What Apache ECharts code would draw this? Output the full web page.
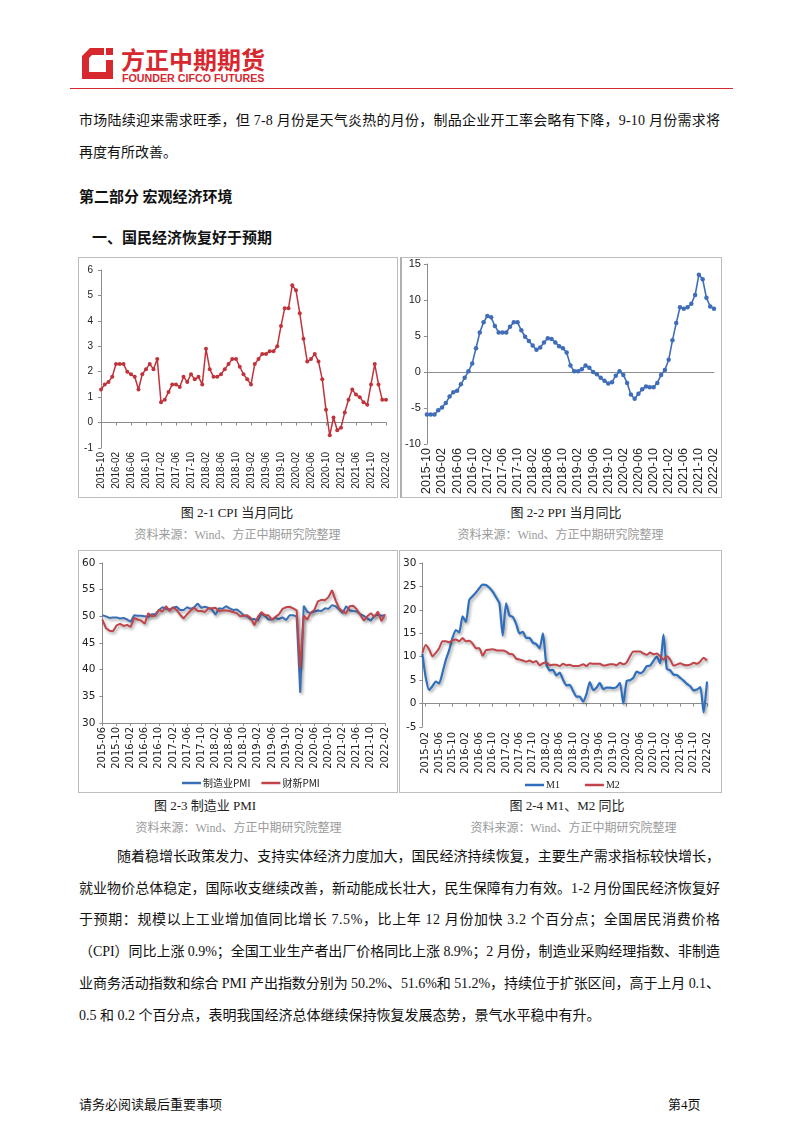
<!DOCTYPE html>
<html><head><meta charset="utf-8">
<script src="https://cdn.jsdelivr.net/npm/echarts@6/dist/echarts.min.js"></script>
<style>
html,body{margin:0;padding:0;background:#fff;}
#page{position:relative;width:802px;height:1133px;overflow:hidden;background:#fff;font-family:"Liberation Serif","Noto Sans CJK SC",serif;color:#111;}
.t{position:absolute;white-space:nowrap;font-size:14px;line-height:20px;}
.h{font-weight:700;font-size:15px;font-family:"Noto Sans CJK SC",sans-serif;}
.cap{position:absolute;text-align:center;font-size:13px;line-height:18px;color:#222;white-space:nowrap;}
.src{position:absolute;text-align:center;font-size:12px;line-height:18px;color:#9a9a9a;white-space:nowrap;}
.box{position:absolute;border:1px solid #bdbdbd;box-sizing:border-box;}
.ch{position:absolute;}
</style></head>
<body><div id="page">
<svg style="position:absolute;left:81px;top:47px" width="34" height="34" viewBox="0 0 34 34">
 <path d="M1 9 L9 1 L23 1 L23 8 L11 8 L8 11 L8 25 L25 25 L25 13 L32 13 L32 32 L1 32 Z" fill="#d7282f"/>
 <path d="M25 1 L32 1 L32 8 L25 8 Z" fill="#d7282f"/>
</svg>
<div class="t" style="left:121px;top:44px;font-size:24px;line-height:30px;font-weight:700;color:#d7282f;font-family:'Noto Sans CJK SC',sans-serif;">方正中期期货</div>
<div class="t" style="left:122px;top:71px;font-size:10.7px;line-height:14px;font-weight:700;color:#d7282f;font-family:'Liberation Sans',sans-serif;">FOUNDER CIFCO FUTURES</div>
<div style="position:absolute;left:70px;top:88px;width:663px;height:1px;background:#d7282f;"></div>

<div class="t fit" data-w="641" style="left:79px;top:111px;">市场陆续迎来需求旺季，但 7-8 月份是天气炎热的月份，制品企业开工率会略有下降，9-10 月份需求将</div>
<div class="t" style="left:79px;top:143px;">再度有所改善。</div>
<div class="t h" style="left:79px;top:186px;">第二部分 宏观经济环境</div>
<div class="t h" style="left:92px;top:227px;">一、国民经济恢复好于预期</div>

<div class="box" style="left:78px;top:257px;width:320px;height:241px;"></div>
<div class="box" style="left:400px;top:257px;width:322px;height:241px;border-left:2px solid #b0b0b0;"></div>
<div class="box" style="left:78px;top:550px;width:320px;height:243px;"></div>
<div class="box" style="left:399px;top:550px;width:323px;height:243px;"></div>

<div id="c1" class="ch" style="left:79px;top:258px;width:318px;height:239px;"></div>
<div id="c2" class="ch" style="left:402px;top:258px;width:319px;height:239px;"></div>
<div id="c3" class="ch" style="left:79px;top:551px;width:318px;height:241px;"></div>
<div id="c4" class="ch" style="left:400px;top:551px;width:321px;height:241px;"></div>

<div class="cap" style="left:137px;top:504px;width:200px;">图 2-1 CPI 当月同比</div>
<div class="src" style="left:110px;top:526px;width:255px;">资料来源：Wind、方正中期研究院整理</div>
<div class="cap" style="left:466px;top:504px;width:200px;">图 2-2 PPI 当月同比</div>
<div class="src" style="left:433px;top:526px;width:255px;">资料来源：Wind、方正中期研究院整理</div>
<div class="cap" style="left:105px;top:797px;width:200px;">图 2-3 制造业 PMI</div>
<div class="src" style="left:111px;top:819px;width:255px;">资料来源：Wind、方正中期研究院整理</div>
<div class="cap" style="left:467px;top:797px;width:200px;">图 2-4 M1、M2 同比</div>
<div class="src" style="left:446px;top:819px;width:255px;">资料来源：Wind、方正中期研究院整理</div>

<div class="t fit" data-w="603" style="left:117px;top:847px;">随着稳增长政策发力、支持实体经济力度加大，国民经济持续恢复，主要生产需求指标较快增长，</div>
<div class="t fit" data-w="641" style="left:79px;top:879px;">就业物价总体稳定，国际收支继续改善，新动能成长壮大，民生保障有力有效。1-2 月份国民经济恢复好</div>
<div class="t fit" data-w="641" style="left:79px;top:910px;">于预期：规模以上工业增加值同比增长 7.5%，比上年 12 月份加快 3.2 个百分点；全国居民消费价格</div>
<div class="t fit" data-w="641" style="left:79px;top:942px;">（CPI）同比上涨 0.9%；全国工业生产者出厂价格同比上涨 8.9%；2 月份，制造业采购经理指数、非制造</div>
<div class="t fit" data-w="641" style="left:79px;top:974px;">业商务活动指数和综合 PMI 产出指数分别为 50.2%、51.6%和 51.2%，持续位于扩张区间，高于上月 0.1、</div>
<div class="t" style="left:79px;top:1006px;">0.5 和 0.2 个百分点，表明我国经济总体继续保持恢复发展态势，景气水平稳中有升。</div>

<div class="t" style="left:79px;top:1095px;font-size:13px;">请务必阅读最后重要事项</div>
<div class="t" style="left:668px;top:1095px;font-size:13px;">第4页</div>
</div>
<script>
// ---------- fit justified text lines ----------
document.querySelectorAll('.fit').forEach(function (el) {
  el.style.letterSpacing = '0px';
  const w = el.getBoundingClientRect().width;
  const n = Array.from(el.textContent).length;
  const target = +el.dataset.w;
  el.style.letterSpacing = ((target - w) / (n - 1)) + 'px';
});

// ---------- data ----------
function months(y0, m0, y1, m1) {
  const out = [];
  let y = y0, m = m0;
  while (y < y1 || (y === y1 && m <= m1)) {
    out.push(y + '-' + (m < 10 ? '0' + m : '' + m));
    m++; if (m > 12) { m = 1; y++; }
  }
  return out;
}
const cpiMonths = months(2015, 10, 2022, 2);
const cpiValues = [1.3, 1.5, 1.6,
  1.8, 2.3, 2.3, 2.3, 2.0, 1.9, 1.8, 1.3, 1.9, 2.1, 2.3, 2.1,
  2.5, 0.8, 0.9, 1.2, 1.5, 1.5, 1.4, 1.8, 1.6, 1.9, 1.7, 1.8,
  1.5, 2.9, 2.1, 1.8, 1.8, 1.9, 2.1, 2.3, 2.5, 2.5, 2.2, 1.9,
  1.7, 1.5, 2.3, 2.5, 2.7, 2.7, 2.8, 2.8, 3.0, 3.8, 4.5, 4.5,
  5.4, 5.2, 4.3, 3.3, 2.4, 2.5, 2.7, 2.4, 1.7, 0.5, -0.5, 0.2,
  -0.3, -0.2, 0.4, 0.9, 1.3, 1.1, 1.0, 0.8, 0.7, 1.5, 2.3, 1.5,
  0.9, 0.9];
const ppiMonths = months(2015, 10, 2022, 2);
const ppiValues = [-5.9, -5.9, -5.9,
  -5.3, -4.9, -4.3, -3.4, -2.8, -2.6, -1.7, -0.8, 0.1, 1.2, 3.3, 5.5,
  6.9, 7.8, 7.6, 6.4, 5.5, 5.5, 5.5, 6.3, 6.9, 6.9, 5.8, 4.9,
  4.3, 3.7, 3.1, 3.4, 4.1, 4.7, 4.6, 4.1, 3.6, 3.3, 2.7, 0.9,
  0.1, 0.1, 0.4, 0.9, 0.6, 0.0, -0.3, -0.8, -1.2, -1.6, -1.4, -0.5,
  0.1, -0.4, -1.5, -3.1, -3.7, -3.0, -2.4, -2.0, -2.1, -2.1, -1.5, -0.4,
  0.3, 1.7, 4.4, 6.8, 9.0, 8.8, 9.0, 9.5, 10.7, 13.5, 12.9, 10.3,
  9.1, 8.8];
const pmiMonths = months(2015, 6, 2022, 2);
const pmiOfficial = [50.2, 50.0, 49.7, 49.8, 49.8, 49.6, 49.7,
  49.4, 49.0, 50.2, 50.1, 50.1, 50.0, 49.9, 50.4, 50.4, 51.2, 51.7, 51.4,
  51.3, 51.6, 51.8, 51.2, 51.2, 51.7, 51.4, 51.7, 52.4, 51.6, 51.8, 51.6,
  51.3, 50.3, 51.5, 51.4, 51.9, 51.5, 51.2, 51.3, 50.8, 50.2, 50.0, 49.4,
  49.5, 49.2, 50.5, 50.1, 49.4, 49.4, 49.7, 49.5, 49.8, 49.3, 50.2, 50.2,
  50.0, 35.7, 52.0, 50.8, 50.6, 50.9, 51.1, 51.0, 51.5, 51.4, 52.1, 51.9,
  51.3, 50.6, 51.9, 51.1, 51.0, 50.9, 50.4, 50.1, 49.6, 49.2, 50.1, 50.3,
  50.1, 50.2];
const pmiCaixin = [49.4, 47.8, 47.3, 47.2, 48.3, 48.6, 48.2,
  48.4, 48.0, 49.7, 49.4, 49.2, 48.6, 50.6, 50.0, 50.1, 51.2, 50.9, 51.9,
  51.0, 51.7, 51.2, 50.3, 49.6, 50.4, 51.1, 51.6, 51.0, 51.0, 50.8, 51.5,
  51.5, 51.6, 51.0, 51.1, 51.1, 51.0, 50.8, 50.6, 50.0, 50.1, 50.2, 49.7,
  48.3, 49.9, 50.8, 50.2, 50.2, 49.4, 49.9, 50.4, 51.4, 51.7, 51.8, 51.5,
  51.1, 40.3, 50.1, 49.4, 50.7, 51.2, 52.8, 53.1, 53.0, 53.6, 54.9, 53.0,
  51.5, 50.9, 50.6, 51.9, 52.0, 51.3, 50.3, 49.2, 50.0, 50.6, 49.9, 50.9,
  49.1, 50.4];
const mMonths = months(2015, 1, 2022, 2);
const m1Values = [10.6, 5.6, 2.9, 3.7, 4.7, 4.3, 6.6, 9.3, 11.4, 14.0, 15.7, 15.2,
  18.6, 17.4, 22.1, 22.9, 23.7, 24.6, 25.4, 25.3, 24.7, 23.9, 22.7, 21.4,
  14.5, 21.4, 18.8, 18.5, 17.0, 15.0, 15.3, 14.0, 14.0, 13.0, 12.7, 11.8,
  15.0, 8.5, 7.1, 7.2, 6.0, 6.6, 5.1, 3.9, 4.0, 2.7, 1.5, 1.5,
  0.4, 2.0, 4.6, 2.9, 3.4, 4.4, 3.1, 3.4, 3.4, 3.3, 3.5, 4.4,
  0.0, 4.8, 5.0, 5.5, 6.8, 6.5, 6.9, 8.0, 8.1, 9.1, 10.0, 8.6,
  14.7, 7.4, 7.1, 6.2, 6.1, 5.5, 4.9, 4.2, 3.7, 2.8, 3.0, 3.5,
  -1.9, 4.7];
const m2Values = [10.8, 12.5, 11.6, 10.1, 10.8, 11.8, 13.3, 13.3, 13.1, 13.5, 13.7, 13.3,
  14.0, 13.3, 13.4, 12.8, 11.8, 11.8, 10.2, 11.4, 11.5, 11.6, 11.4, 11.3,
  11.3, 11.1, 10.6, 10.5, 9.6, 9.4, 9.2, 8.9, 9.2, 8.8, 9.1, 8.2,
  8.6, 8.8, 8.2, 8.3, 8.3, 8.0, 8.5, 8.2, 8.3, 8.0, 8.0, 8.1,
  8.4, 8.0, 8.6, 8.5, 8.5, 8.5, 8.1, 8.2, 8.4, 8.4, 8.2, 8.7,
  8.4, 8.8, 10.1, 11.1, 11.1, 11.1, 10.7, 10.4, 10.9, 10.5, 10.7, 10.1,
  9.4, 10.1, 9.4, 8.1, 8.3, 8.6, 8.3, 8.2, 8.3, 8.7, 8.5, 9.0,
  9.8, 9.2];
const pmiNames = ['制造业PMI', '财新PMI'];
const mNames = ['M1', 'M2'];

// ---------- helpers ----------
const AXC = '#8c8c8c';
function yAxis(min, max, interval, fs, fam, margin) {
  return {
    type: 'value', min: min, max: max, interval: interval,
    axisLine: { show: true, lineStyle: { color: AXC, width: 1 } },
    axisTick: { show: true, length: 3, lineStyle: { color: AXC } },
    splitLine: { show: false },
    axisLabel: { color: '#222', fontSize: fs, fontFamily: fam, margin: margin }
  };
}
function labelAxis(cats, every, offset, fs, fam, margin, showLine, ticks) {
  return {
    type: 'category', data: cats, boundaryGap: false, position: 'bottom',
    axisLine: { show: showLine, onZero: false, lineStyle: { color: AXC } },
    axisTick: { show: ticks, length: 3, interval: (i) => (i - offset) % every === 0, lineStyle: { color: AXC } },
    axisLabel: { rotate: 90, fontSize: fs, fontFamily: fam, color: '#222', margin: margin,
      interval: (i) => (i - offset) % every === 0 }
  };
}
function zeroAxis(cats, every, offset, ticks) {
  return {
    type: 'category', data: cats, boundaryGap: false, position: 'top',
    axisLine: { show: true, onZero: true, lineStyle: { color: AXC, width: 1 } },
    axisTick: { show: ticks, inside: true, length: 3, interval: (i) => (i - offset) % every === 0, lineStyle: { color: AXC } },
    axisLabel: { show: false }
  };
}

// ---------- chart 1: CPI ----------
echarts.init(document.getElementById('c1')).setOption({
  animation: false,
  grid: { left: 22, top: 12, right: 11, bottom: 49 },
  xAxis: [labelAxis(cpiMonths, 4, 0, 10, 'Liberation Sans', 4, false, false), zeroAxis(cpiMonths, 4, 0, true)],
  yAxis: yAxis(-1, 6, 1, 10, 'Liberation Sans', 8),
  series: [{
    type: 'line', data: cpiValues, xAxisIndex: 0, symbol: 'circle', symbolSize: 4, showAllSymbol: true,
    lineStyle: { color: '#c0333b', width: 1.5 }, itemStyle: { color: '#c0333b' }
  }]
});

// ---------- chart 2: PPI ----------
echarts.init(document.getElementById('c2')).setOption({
  animation: false,
  grid: { left: 20, top: 6, right: 7, bottom: 46 },
  xAxis: [labelAxis(ppiMonths, 4, 0, 12.5, 'Liberation Sans', 4, false, false), zeroAxis(ppiMonths, 4, 0, false)],
  yAxis: yAxis(-10, 15, 5, 11, 'Liberation Sans', 6),
  series: [{
    type: 'line', data: ppiValues, xAxisIndex: 0, symbol: 'circle', symbolSize: 4.5, showAllSymbol: true,
    lineStyle: { color: '#3f6db8', width: 1.6 }, itemStyle: { color: '#3f6db8' }
  }]
});

// ---------- chart 3: PMI ----------
const shadow = { shadowColor: 'rgba(0,0,0,0.35)', shadowBlur: 3, shadowOffsetX: 1.5, shadowOffsetY: 2 };
echarts.init(document.getElementById('c3')).setOption({
  animation: false,
  grid: { left: 21, top: 12, right: 12, bottom: 69 },
  legend: {
    data: pmiNames, left: 98, top: 222, itemWidth: 19, itemHeight: 2.5, itemGap: 11, icon: 'rect',
    textStyle: { fontSize: 10, fontFamily: 'Noto Sans CJK SC', color: '#222', padding: [0, 0, 0, -3] }
  },
  xAxis: labelAxis(pmiMonths, 4, 0, 10, 'DejaVu Sans', 4, true, true),
  yAxis: yAxis(30, 60, 5, 10.5, 'DejaVu Sans', 7),
  series: [
    { name: pmiNames[0], type: 'line', data: pmiOfficial, symbol: 'none',
      lineStyle: Object.assign({ color: '#3a6fb6', width: 2 }, shadow), itemStyle: { color: '#3a6fb6' } },
    { name: pmiNames[1], type: 'line', data: pmiCaixin, symbol: 'none',
      lineStyle: Object.assign({ color: '#c0444a', width: 2 }, shadow), itemStyle: { color: '#c0444a' } }
  ]
});

// ---------- chart 4: M1 M2 ----------
echarts.init(document.getElementById('c4')).setOption({
  animation: false,
  grid: { left: 21, top: 12, right: 14, bottom: 65 },
  legend: {
    data: mNames, left: 120, top: 224, itemWidth: 19, itemHeight: 2.5, itemGap: 25, icon: 'rect',
    textStyle: { fontSize: 10, fontFamily: 'Liberation Serif', color: '#222', padding: [0, 0, 0, -3] }
  },
  xAxis: [labelAxis(mMonths, 4, 1, 10, 'DejaVu Sans', 5, false, false), zeroAxis(mMonths, 4, 1, true)],
  yAxis: yAxis(-5, 30, 5, 10.5, 'DejaVu Sans', 6),
  series: [
    { name: mNames[0], type: 'line', data: m1Values, xAxisIndex: 0, symbol: 'none', smooth: 0.2,
      lineStyle: Object.assign({ color: '#2f6fbd', width: 2.2 }, shadow), itemStyle: { color: '#2f6fbd' } },
    { name: mNames[1], type: 'line', data: m2Values, xAxisIndex: 0, symbol: 'none', smooth: 0.2,
      lineStyle: Object.assign({ color: '#c0444a', width: 2 }, shadow), itemStyle: { color: '#c0444a' } }
  ]
});
</script>
</body></html>
